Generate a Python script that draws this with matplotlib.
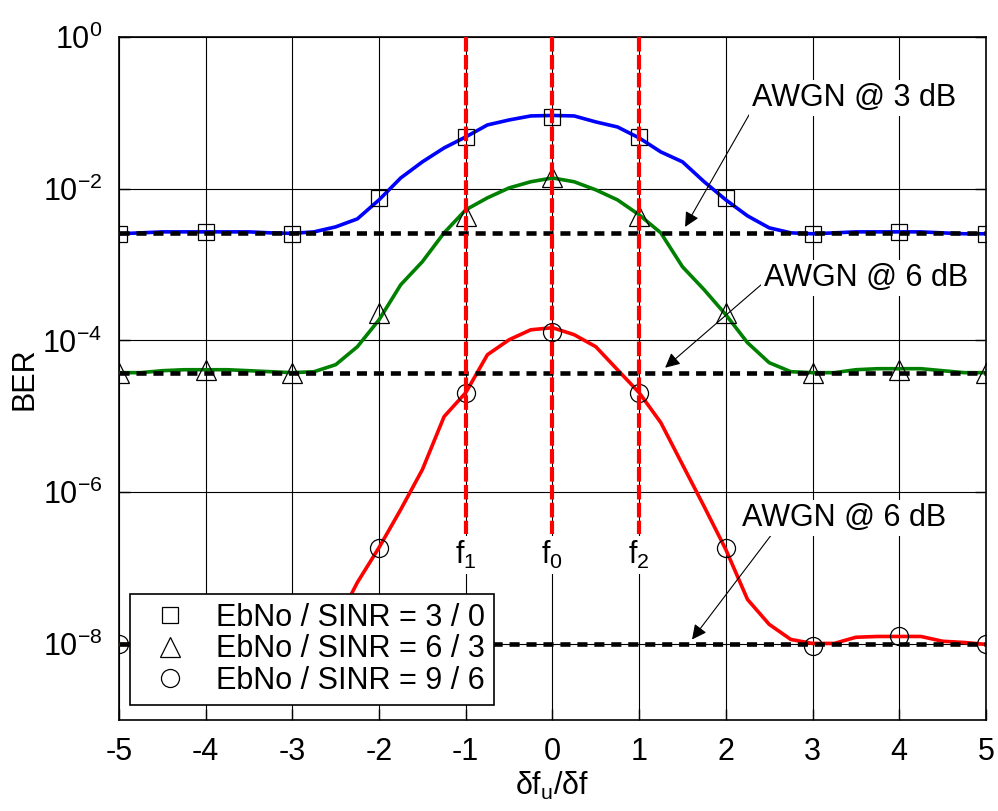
import numpy as np
import matplotlib
matplotlib.use("Agg")
import matplotlib.pyplot as plt

plt.rcParams['font.family'] = ['Liberation Sans', 'DejaVu Sans']
plt.rcParams['mathtext.fontset'] = 'custom'
plt.rcParams['mathtext.rm'] = 'Liberation Sans'
plt.rcParams['mathtext.it'] = 'Liberation Sans:italic'
plt.rcParams['mathtext.bf'] = 'Liberation Sans:bold'
plt.rcParams['axes.unicode_minus'] = False

# curve samples, step 0.25 in df_u/df
x_line = np.arange(-5, 5.001, 0.25)
ber_3_0 = [2.54e-3, 2.61e-3, 2.69e-3, 2.69e-3, 2.69e-3, 2.69e-3, 2.69e-3, 2.61e-3, 2.57e-3,
           2.69e-3, 3.13e-3, 3.99e-3, 7.10e-3, 1.38e-2, 2.25e-2, 3.43e-2, 4.79e-2, 6.89e-2,
           8.01e-2, 9.05e-2, 9.19e-2, 9.05e-2, 7.55e-2, 6.48e-2, 4.65e-2, 3.04e-2, 2.25e-2,
           1.23e-2, 7.10e-3, 4.37e-3, 3.04e-3, 2.61e-3, 2.54e-3, 2.61e-3, 2.69e-3, 2.69e-3,
           2.69e-3, 2.69e-3, 2.61e-3, 2.54e-3, 2.54e-3]
ber_6_3 = [3.76e-5, 3.76e-5, 3.99e-5, 4.11e-5, 4.11e-5, 4.11e-5, 3.99e-5, 3.87e-5, 3.76e-5,
           3.87e-5, 4.79e-5, 8.26e-5, 1.87e-4, 5.41e-4, 1.09e-3, 2.61e-3, 5.25e-3, 7.55e-3,
           1.02e-2, 1.23e-2, 1.38e-2, 1.23e-2, 9.62e-3, 7.10e-3, 4.51e-3, 2.61e-3, 9.33e-4,
           4.65e-4, 2.18e-4, 9.33e-5, 5.09e-5, 3.87e-5, 3.76e-5, 3.76e-5, 4.11e-5, 4.24e-5,
           4.24e-5, 4.24e-5, 3.99e-5, 3.76e-5, 3.76e-5]
ber_9_6 = [9.91e-9, 9.91e-9, 9.91e-9, 1.02e-8, 1.05e-8, 1.05e-8, 1.02e-8, 9.91e-9, 9.91e-9,
           1.15e-8, 1.82e-8, 6.49e-8, 1.87e-7, 5.92e-7, 1.99e-6, 9.91e-6, 2.05e-5, 6.48e-5,
           1.02e-4, 1.38e-4, 1.47e-4, 1.19e-4, 8.26e-5, 4.11e-5, 2.05e-5, 8.26e-6, 2.31e-6,
           6.48e-7, 1.76e-7, 3.87e-8, 1.82e-8, 1.15e-8, 1.02e-8, 1.02e-8, 1.23e-8, 1.26e-8,
           1.26e-8, 1.26e-8, 1.09e-8, 1.05e-8, 9.91e-9]

# simulated points at integer offsets
x_mark = np.arange(-5, 6)
mark_3_0 = [2.54e-3, 2.69e-3, 2.54e-3, 7.55e-3, 4.79e-2, 8.77e-2, 4.79e-2, 7.55e-3, 2.54e-3, 2.69e-3, 2.54e-3]
mark_6_3 = [3.76e-5, 4.11e-5, 3.76e-5, 2.31e-4, 4.37e-3, 1.43e-2, 4.37e-3, 2.31e-4, 3.76e-5, 4.11e-5, 3.76e-5]
mark_9_6 = [9.91e-9, 9.91e-9, 9.91e-9, 1.87e-7, 2.05e-5, 1.30e-4, 2.05e-5, 1.87e-7, 9.33e-9, 1.26e-8, 9.91e-9]

# AWGN reference levels
awgn_levels = [2.59e-3, 3.72e-5, 9.9e-9]
labels = ['EbNo / SINR = 3 / 0', 'EbNo / SINR = 6 / 3', 'EbNo / SINR = 9 / 6']
freq_pos = [-1, 0, 1]
freq_labels = [r'f$_1$', r'f$_0$', r'f$_2$']

fig = plt.figure(figsize=(9.98, 8.11), dpi=100)
ax = fig.add_axes([0.1192, 0.1122, 0.8687, 0.8425])

fs = 22
ax.plot(x_line, ber_3_0, color='#0000ff', lw=2.6, zorder=3)
ax.plot(x_line, ber_6_3, color='#008000', lw=2.6, zorder=3)
ax.plot(x_line, ber_9_6, color='#ff0000', lw=2.6, zorder=3)

for lev in awgn_levels:
    ax.plot([-5, 5], [lev, lev], color='k', lw=3.3, ls=(0, (2.2, 1.5)), zorder=4)

h1, = ax.plot(x_mark, mark_3_0, ls='none', marker='s', ms=12, mfc='none', mec='k', mew=0.9, zorder=5)
h2, = ax.plot(x_mark, mark_6_3, ls='none', marker='^', ms=14, mfc='none', mec='k', mew=0.9, zorder=5)
h3, = ax.plot(x_mark, mark_9_6, ls='none', marker='o', ms=13, mfc='none', mec='k', mew=0.9, zorder=5)

for xf, lab in zip(freq_pos, freq_labels):
    ax.plot([xf, xf], [1, 2.8e-7], color='#ff0000', lw=3, ls=(0, (3.5, 0.8)), zorder=6)
    ax.text(xf, 1.5e-7, lab, ha='center', va='center', fontsize=fs, zorder=6,
            bbox=dict(fc='white', ec='none', pad=2))

arrow = dict(arrowstyle='-|>', color='k', lw=0.8, mutation_scale=22, shrinkA=0, shrinkB=0)
ax.annotate('AWGN @ 3 dB', xy=(1.53, 3.13e-3), xytext=(2.30, 0.156), fontsize=fs,
            ha='left', va='center', zorder=7, bbox=dict(fc='white', ec='none', pad=2),
            arrowprops=dict(arrow, relpos=(0, 0.1)))
ax.annotate('AWGN @ 6 dB', xy=(1.30, 4.37e-5), xytext=(2.44, 6.68e-4), fontsize=fs,
            ha='left', va='center', zorder=7, bbox=dict(fc='white', ec='none', pad=2),
            arrowprops=dict(arrow, relpos=(0, 0.35)))
ax.annotate('AWGN @ 6 dB', xy=(1.61, 1.15e-8), xytext=(2.19, 4.61e-7), fontsize=fs,
            ha='left', va='center', zorder=7, bbox=dict(fc='white', ec='none', pad=2),
            arrowprops=dict(arrow, relpos=(0.15, 0)))

ax.set_yscale('log')
ax.set_xlim(-5, 5)
ax.set_ylim(1e-9, 1)
ax.set_xticks(range(-5, 6))
ax.set_yticks([1e-8, 1e-6, 1e-4, 1e-2, 1])
ax.minorticks_off()
ax.grid(True, color='k', lw=0.8, ls='-', zorder=0)
ax.set_axisbelow(True)
ax.tick_params(direction='in', length=8, width=1, labelsize=fs, pad=12,
               right=True, top=False)
for sp in ax.spines.values():
    sp.set_linewidth(1.2)

ax.set_xlabel(r'δf$_\mathrm{u}$/δf', fontsize=fs, labelpad=2)
ax.set_ylabel('BER', fontsize=fs, labelpad=2)

leg = ax.legend([h1, h2, h3], labels, loc='lower left', bbox_to_anchor=(0.0127, 0.022),
                fontsize=fs, frameon=True, fancybox=False, edgecolor='k', framealpha=1,
                borderpad=0.3, labelspacing=0.05, handlelength=2.0, handletextpad=0.5,
                borderaxespad=0)
leg.get_frame().set_linewidth(1.2)
leg.set_zorder(10)

fig.savefig('out.png', dpi=100)
